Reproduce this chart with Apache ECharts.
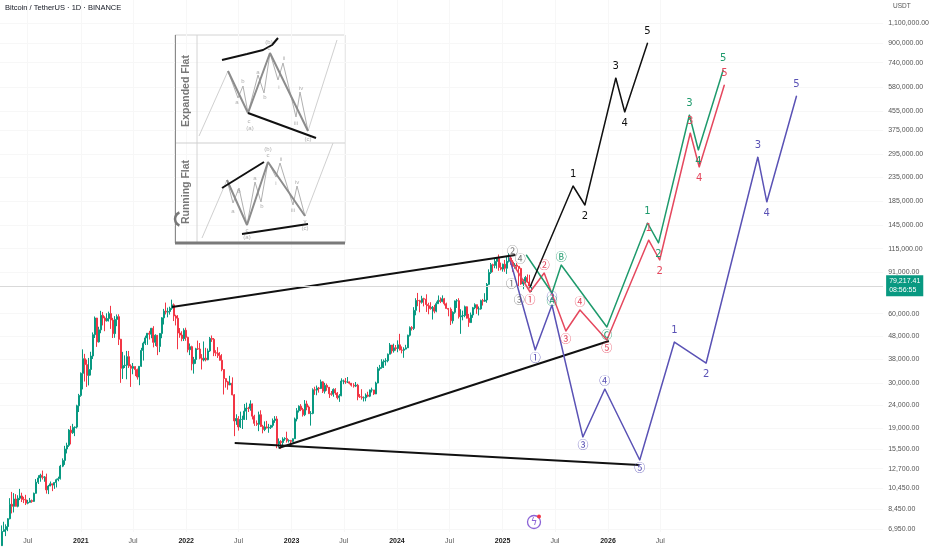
<!DOCTYPE html>
<html><head><meta charset="utf-8">
<script src="https://cdn.jsdelivr.net/npm/echarts@6/dist/echarts.min.js"></script>
<style>html,body{margin:0;padding:0;background:#fff}#c{width:932px;height:550px}</style>
</head><body><div id="c"></div>
<script>
// ---------------- data ----------------
const chartTitle = 'Bitcoin / TetherUS · 1D · BINANCE';
const currency = 'USDT';
const firstWeekStart = '2020-03-30';
const firstOpen = 5880;
// weekly candles: [close, high, low]
const wk2020 = [[6780,7200,5860],[6900,7470,6750],[7120,7280,6470],[7700,7740,6800],[8900,9460,7650],
[8720,10070,8120],[9380,9950,8200],[8720,9850,8700],[9450,9740,8630],[9670,10380,9280],[9340,9990,9100],
[9300,9590,9000],[9000,9780,8830],[9070,9300,8900],[9230,9480,9050],[9160,9330,9030],[9930,10000,9120],
[11100,11450,9900],[11580,11900,10900],[11900,12080,11150],[11650,12470,11400],[11700,11800,11150],
[10280,12090,9900],[10680,10800,9850],[10920,11180,10660],[10780,10950,10150],[11060,11100,10380],
[11380,11500,10530],[11500,11730,11200],[13030,13200,11400],[13800,14090,12900],[15470,15970,13200],
[16050,16480,14800],[18700,18880,15800],[18200,19500,16200],[19200,19900,18000],[19270,19400,17600],
[23850,24100,19000],[26450,26870,22400],[33000,33300,26100]];
const wk2021 = [[38200,41950,28100],[36000,40100,30400],[32300,37850,28800],[34300,38500,29240],[39250,40950,32300],
[48600,49700,38100],[57400,58300,47000],[45200,57500,43000],[51000,52600,44900],[59000,61700,49300],
[57400,61000,53300],[55800,58400,50300],[57100,60200,55400],[60000,61200,55400],[56250,64850,51500],
[49100,57500,47000],[56600,58500,47100],[58200,59500,52900],[46400,59600,43800],[34700,46600,30000],
[35700,40900,31200],[35800,39500,34800],[39000,41300,31100],[35500,41300,34800],[34700,36100,28800],
[35300,36600,32700],[34250,35100,32100],[31800,34600,31000],[35400,35500,29300],[41500,42600,35200],
[44600,45300,37500],[47050,48100,43800],[49300,49400,43900],[48800,50500,46300],[51800,52000,46900],
[45000,52900,42800],[48300,48800,43400],[43200,48000,39600],[49200,49400,40800],[57500,57900,46900],
[61500,62900,53800],[60900,67000,59500],[61300,63700,57800],[63300,64300,59400],[65500,69000,62300],
[58600,66400,55700],[57300,59300,53300],[49400,59100,42000],[48400,51900,47100],[46700,50300,45500],
[50800,51800,45600],[47300,52100,45700]];
const wk2022 = [[41800,47600,40700],[43100,44500,39600],[36300,43500,34000],[37900,38900,32900],[42200,42600,36300],
[42100,45800,41700],[38400,44700,38000],[37700,40000,34300],[38400,45400,37200],[37800,42600,37200],
[41300,42300,37600],[46800,47500,40900],[46400,48200,45200],[40500,47000,39200],[40400,41600,39200],
[39400,42900,38500],[37600,40800,37500],[34300,40000,33700],[31300,34300,26700],[30300,31400,28600],
[29400,30600,28000],[29900,32200,29300],[26600,31700,26500],[20500,26800,17600],[21000,21900,19700],
[19300,21500,18600],[20800,22500,19100],[20800,21600,18900],[22600,24300,20700],[23300,24600,20700],
[23200,23600,22400],[24300,25200,22700],[21500,24400,20800],[20000,21800,19500],[19800,20600,19500],
[21800,22500,18500],[19400,22800,19300],[18800,19700,18100],[19300,20400,18500],[19100,20500,19000],
[19200,19900,18200],[19600,19700,18900],[20600,21000,19200],[20900,21500,20100],[16300,21500,15600],
[16700,17200,15800],[16500,16900,15500],[17100,17400,16000],[17200,17400,16800],[16800,18400,16500],
[16850,17050,16500],[16700,16950,16400]];
const wk2023 = [[17150,17200,16600],[20900,21200,17100],[22700,23300,20400],[23750,23950,22300],[22950,24250,22600],
[21800,23350,21400],[24300,25250,21500],[23550,25100,22800],[22050,23900,21950],[22100,22600,19550],
[28000,28400,21900],[27900,28850,26600],[28500,29200,26500],[28350,28800,27200],[30300,31000,28200],
[27600,30500,27100],[29250,30000,26950],[28700,29800,27700],[26900,28000,25800],[26750,27650,26350],
[28100,28400,26100],[27100,28450,26600],[25850,27350,25400],[26350,26800,24800],[30550,31400,26250],
[30600,31000,29600],[30300,31500,29700],[30300,31800,29950],[29900,30400,29550],[29300,29600,28900],
[29050,29900,28600],[29300,30250,28750],[26100,29700,25200],[26050,26800,25800],[25850,28150,25350],
[25850,26200,24900],[26550,27000,24950],[26250,27450,26000],[27950,28050,26000],[27950,28600,27250],
[26850,27950,26550],[29950,30350,26800],[34550,35200,29850],[35000,35900,33900],[37050,38000,34550],
[37350,37900,34800],[37450,38400,35650],[39950,40250,36850],[43800,44700,39950],[41350,43500,40200],
[42600,44400,40600],[42300,43800,41400]];
const wk2024 = [[43900,45900,40750],[41700,49000,41500],[41550,43200,40300],[42050,42850,38550],[42600,43900,41900],
[48300,48600,42550],[52150,52800,47700],[51750,52950,50650],[62000,64000,50900],[68400,70000,59000],
[68300,73800,64600],[67200,68900,60800],[69650,71700,66300],[69350,70300,64500],[65700,72800,61000],
[64950,66900,59600],[63100,67250,62400],[63900,64750,56550],[61500,65500,60200],[66250,67700,60800],
[68500,71950,66300],[67750,70600,66650],[69650,72000,67200],[66200,70200,65050],[63200,66950,63050],
[62700,63350,58400],[55850,63800,53500],[60800,61400,54300],[68150,68400,59900],[68250,69400,63500],
[58150,70000,57100],[58700,62700,49000],[58900,61800,56100],[64250,65000,57850],[57300,64500,57200],
[54850,59800,52550],[59200,60650,54600],[63600,64150,57500],[65600,66500,62700],[62850,65550,59850],
[62850,64450,58900],[68350,69000,62400],[67950,69500,65050],[68750,73600,67450],[80400,81500,66850],
[90600,93450,79800],[97900,99600,89300],[97200,98900,90800],[101200,104000,94500],[104450,105000,94150],
[95200,108350,92100],[93700,99950,92500],[98350,98950,91300]];
const wk2025 = [[94500,102700,91200],[101300,106400,89250],[104700,109600,100100],[100600,106450,97800],
[96450,102500,91200],[97550,99450,94100],[96300,99500,93400],[94250,96500,78250],[80700,95000,80000],
[83000,84500,76600],[86100,87500,81200],[82350,88800,81600],[78200,88500,77100],[79217.41,81200,74500]];
const lastPrice = 79217.41;
const countdown = '08:56:55';

const yTickValues = [6950,8450,10450,12700,15500,19000,24000,30000,38000,48000,60000,91000,115000,145000,
185000,235000,295000,375000,455000,580000,740000,900000,1100000];
const xTickDates = ['2020-07-01','2021-01-01','2021-07-01','2022-01-01','2022-07-01','2023-01-01','2023-07-01',
'2024-01-01','2024-07-01','2025-01-01','2025-07-01','2026-01-01','2026-07-01'];

// trend lines
const upperLineDates = ['2021-11-13','2025-02-14'];   const upperLinePrices = [64110,107860];
const risingLineDates = ['2022-11-17','2026-01-04'];  const risingLinePrices = [15630,45600];
const lowerLineDates = ['2022-06-18','2026-04-20'];   const lowerLinePrices = [16430,13180];

// wave projections
const blackDates = ['2025-04-06','2025-09-02','2025-10-13','2026-01-28','2026-02-28','2026-05-18'];
const blackPrices = [78290,215200,177900,634300,451300,900500];
const blackLabels = ['','1','2','3','4','5'];

const redDates = ['2025-01-25','2025-04-06','2025-05-25','2025-08-08','2025-09-26','2025-12-28','2026-05-22','2026-06-29','2026-10-13','2026-11-13','2027-02-08'];
const redPrices = [104650,74480,90070,50400,62200,46070,125300,102600,365800,260300,591300];
const redLabels = ['','①','②','③','④','⑤','1','2','3','4','5'];

const greenDates = ['2025-03-24','2025-06-21','2025-07-23','2025-12-28','2026-05-18','2026-06-25','2026-10-10','2026-11-10','2027-02-04'];
const greenPrices = [107860,73730,97580,52470,148600,121700,438000,308500,687100];
const greenLabels = ['','Ⓐ','Ⓑ','Ⓒ','1','2','3','4','5'];

const purpleDates = ['2025-01-25','2025-04-24','2025-06-21','2025-10-06','2025-12-21','2026-04-21','2026-08-19','2026-12-07','2027-06-04','2027-07-05','2027-10-16'];
const purplePrices = [104650,41670,65400,17440,28200,13860,45150,36590,287600,183400,529800];
const purpleLabels = ['','①','②','③','④','⑤','1','2','3','4','5'];

const grayDates = ['2025-02-01','2025-02-04','2025-02-28','2025-03-03'];
const grayPrices = [80670,112200,68750,103600];
const grayLabels = ['①','②','③','④'];

// inset diagram (local units)
const expandedMain = [[53,36],[73,78],[95,18],[133,96]];
const expandedSub = [[53,36],[63,63],[68,51],[73,78],[83,40],[89,58],[95,18],[103,45],[108,28],[121,82],[125,57],[133,96]];
const expandedGuideA = [[24,101],[53,36]];
const expandedGuideB = [[133,96],[162,5]];
const expandedUpper = [[47,25],[72,19],[88,15],[97,10],[103,3]];
const expandedLower = [[73,78],[141,103]];
const expandedText = [['a',62,67],['b',68,46],['c',74,86],['(a)',75,93],['a',83,37],['b',90,62],['c',94,13],['(b)',94,7],['i',104,52],['ii',109,23],['iii',121,88],['iv',126,53],['(c)',133,104]];
const runningMain = [[52,145],[72,190],[93,127],[130,181]];
const runningSub = [[52,145],[58,168],[64,153],[72,190],[80,147],[86,167],[93,127],[101,142],[105,128],[118,170],[122,151],[130,181]];
const runningGuideA = [[27,203],[52,145]];
const runningGuideB = [[130,181],[158,108]];
const runningUpper = [[47,153],[89,127]];
const runningLower = [[67,199],[133,189]];
const runningText = [['(b)',93,114],['c',93,120],['a',58,176],['b',64,156],['c',72,195],['(a)',72,202],['a',80,143],['b',87,171],['i',101,148],['ii',106,124],['iii',118,175],['iv',122,147],['v',130,186],['(c)',130,193]];

// ---------------- build ----------------
const ts = s => { const p = s.split('-').map(Number); return Date.UTC(p[0], p[1]-1, p[2]); };
const DAY = 86400000;
const weeks = [].concat(wk2020, wk2021, wk2022, wk2023, wk2024, wk2025);
let prevClose = firstOpen;
const candles = weeks.map((w, i) => {
  const t = ts(firstWeekStart) + (i*7 + 3.5) * DAY;
  const o = prevClose; prevClose = w[0];
  return [t, o, w[0], w[2], w[1]];
});

const UP = '#089981', DOWN = '#f23645';
const C_GREEN = '#1e9a6c', C_RED = '#e5485e', C_PURPLE = '#5a52b5', C_BLACK = '#111111';
const LBL_FONT = 'DejaVu Sans, Noto Sans CJK SC, sans-serif';
const CIRC_FONT = 'Noto Sans CJK SC, DejaVu Sans, sans-serif';

function pairLine(dates, prices, color, width) {
  return { type:'line', data: dates.map((d,i)=>[ts(d), prices[i]]), symbol:'none', silent:true,
    lineStyle:{color, width}, z:4, animation:false };
}
function waveSeries(dates, prices, labels, color) {
  return {
    type:'line', silent:true, animation:false, z:6,
    symbol:'circle', symbolSize:1, showAllSymbol:true,
    lineStyle:{color, width:1.5}, itemStyle:{color},
    data: dates.map((d,i) => {
      const up = i > 0 && prices[i] > prices[i-1];
      const circled = /[\u2460-\u24FF]/.test(labels[i]);
      return { value:[ts(d), prices[i]], label:{ show: !!labels[i], formatter: labels[i] || ' ',
        position: up ? 'top' : 'bottom', distance: circled ? 2 : 6,
        color, fontSize: circled ? 11 : 10, fontFamily: circled ? CIRC_FONT : LBL_FONT } };
    })
  };
}
function insetLine(pts, color, width) {
  return { type:'line', xAxisIndex:1, yAxisIndex:1, data: pts, symbol:'none', silent:true,
    lineStyle:{color, width}, z:3, animation:false };
}
function insetText(items) {
  return { type:'scatter', xAxisIndex:1, yAxisIndex:1, silent:true, animation:false, z:4,
    symbolSize:1, itemStyle:{color:'transparent'},
    data: items.map(t => ({ value:[t[1], t[2]], label:{ show:true, formatter:t[0], position:'inside',
      color:'#9a9a9a', fontSize:6, fontFamily:'Liberation Sans, sans-serif' } })) };
}

const fmtPrice = v => Number(v).toLocaleString('en-US', {minimumFractionDigits:2, maximumFractionDigits:2});

const option = {
  animation: false,
  backgroundColor: '#ffffff',
  grid: [
    { left:0, right:44, top:0, bottom:18 },
    { left:175, top:35, width:170, height:208 }
  ],
  xAxis: [
    { type:'value', gridIndex:0, min: Date.UTC(2020,2,27), max: Date.UTC(2028,7,11),
      axisLine:{show:false}, axisTick:{show:false, customValues: xTickDates.map(ts)},
      splitLine:{show:true, lineStyle:{color:'#f7f7f7', width:1}},
      axisLabel:{ customValues: xTickDates.map(ts), margin:6, fontSize:7, fontFamily:'Liberation Sans, sans-serif',
        hideOverlap:false,
        formatter: v => { const d = new Date(v); return d.getUTCMonth() === 0 ? '{y|' + d.getUTCFullYear() + '}' : '{m|Jul}'; },
        rich:{ y:{fontSize:7, color:'#1a1a1a', fontWeight:'bold'}, m:{fontSize:7, color:'#555'} } } },
    { type:'value', gridIndex:1, min:0, max:170, show:false }
  ],
  yAxis: [
    { type:'log', gridIndex:0, position:'right', min:6742, max:1384800, logBase:10,
      axisLine:{show:false}, axisTick:{show:false, customValues: yTickValues},
      splitLine:{show:true, lineStyle:{color:'#f7f7f7', width:1}},
      axisLabel:{ customValues: yTickValues, margin:5, align:'left', fontSize:7, color:'#555',
        fontFamily:'Liberation Sans Narrow, Liberation Sans, sans-serif', formatter: v => fmtPrice(Math.round(v)) } },
    { type:'value', gridIndex:1, min:0, max:208, inverse:true, show:false }
  ],
  graphic: [
    { type:'text', left:5, top:4, style:{ text: chartTitle, fontSize:7.5, fill:'#131722', fontFamily:'Liberation Sans, sans-serif' } },
    { type:'text', left:893, top:3, style:{ text: currency, fontSize:6.5, fill:'#555', fontFamily:'Liberation Sans, sans-serif' } },
    { type:'rect', shape:{x:175, y:35, width:170, height:208}, style:{fill:'#fff', stroke:'#d4d4d4', lineWidth:1}, z:0 },
    { type:'line', shape:{x1:197, y1:35, x2:197, y2:243}, style:{stroke:'#d4d4d4', lineWidth:1}, z:1 },
    { type:'line', shape:{x1:175, y1:143, x2:345, y2:143}, style:{stroke:'#cfcfcf', lineWidth:1}, z:1 },
    { type:'line', shape:{x1:175.5, y1:35, x2:175.5, y2:243}, style:{stroke:'#8a8a8a', lineWidth:1}, z:1 },
    { type:'line', shape:{x1:175, y1:243, x2:345, y2:243}, style:{stroke:'#7a7a7a', lineWidth:3}, z:1 },
    { type:'text', x:186, y:91, rotation:Math.PI/2, z:2,
      style:{ text:'Expanded Flat', fontSize:10.5, fontWeight:'bold', fill:'#777', align:'center', verticalAlign:'middle', fontFamily:'Liberation Sans, sans-serif' } },
    { type:'text', x:186, y:192, rotation:Math.PI/2, z:2,
      style:{ text:'Running Flat', fontSize:10.5, fontWeight:'bold', fill:'#777', align:'center', verticalAlign:'middle', fontFamily:'Liberation Sans, sans-serif' } },
    { type:'arc', shape:{cx:182, cy:219, r:7, startAngle:Math.PI*0.62, endAngle:Math.PI*1.38}, style:{stroke:'#777', lineWidth:2.5, fill:null}, z:2 },
    { type:'circle', shape:{cx:534, cy:522, r:6.5}, style:{fill:'#fff', stroke:'#8b63d6', lineWidth:1.3}, z:5 },
    { type:'text', x:534, y:522, z:6, style:{ text:'ϟ', fontSize:10, fill:'#8b63d6', align:'center', verticalAlign:'middle', fontFamily:'DejaVu Sans, sans-serif' } },
    { type:'circle', shape:{cx:539, cy:516.5, r:2}, style:{fill:'#f23645'}, z:7 }
  ],
  series: [
    { type:'candlestick', data: candles, encode:{x:0, y:[1,2,3,4]}, barWidth:1.5, z:2, silent:true,
      itemStyle:{ color:UP, color0:DOWN, borderColor:UP, borderColor0:DOWN, borderWidth:1 },
      markLine:{ silent:true, symbol:['none','none'], animation:false,
        lineStyle:{ color:'#d9d9d9', type:'solid', width:1 },
        label:{ position:'end', distance:3, formatter: fmtPrice(lastPrice) + '\n' + countdown, color:'#fff',
          backgroundColor: UP, fontSize:7, lineHeight:9, padding:[2,3,1,3], fontFamily:'Liberation Sans, sans-serif' },
        data:[ { yAxis: lastPrice } ] } },
    pairLine(upperLineDates, upperLinePrices, C_BLACK, 2),
    pairLine(risingLineDates, risingLinePrices, C_BLACK, 2),
    pairLine(lowerLineDates, lowerLinePrices, C_BLACK, 2),
    waveSeries(purpleDates, purplePrices, purpleLabels, C_PURPLE),
    waveSeries(redDates, redPrices, redLabels, C_RED),
    waveSeries(greenDates, greenPrices, greenLabels, C_GREEN),
    waveSeries(blackDates, blackPrices, blackLabels, C_BLACK),
    { type:'scatter', silent:true, animation:false, z:7, symbolSize:1, itemStyle:{color:'transparent'},
      data: grayDates.map((d,i)=>({ value:[ts(d), grayPrices[i]], label:{ show:true, formatter: grayLabels[i],
        position:'inside', color:'#555', fontSize:11, fontFamily: CIRC_FONT } })) },
    insetLine(expandedGuideA, '#d0d0d0', 1), insetLine(expandedGuideB, '#d0d0d0', 1),
    insetLine(expandedSub, '#b0b0b0', 1), insetLine(expandedMain, '#8c8c8c', 2),
    insetLine(expandedUpper, '#111', 2), insetLine(expandedLower, '#111', 2),
    insetText(expandedText),
    insetLine(runningGuideA, '#d0d0d0', 1), insetLine(runningGuideB, '#d0d0d0', 1),
    insetLine(runningSub, '#b0b0b0', 1), insetLine(runningMain, '#8c8c8c', 2),
    insetLine(runningUpper, '#111', 2), insetLine(runningLower, '#111', 2),
    insetText(runningText)
  ]
};
const chart = echarts.init(document.getElementById('c'), null, {renderer:'canvas'});
chart.setOption(option);
</script></body></html>
